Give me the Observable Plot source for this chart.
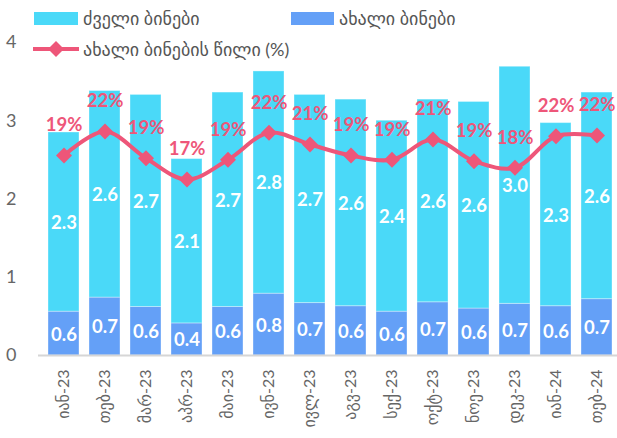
<!DOCTYPE html>
<html>
<head>
<meta charset="utf-8">
<script src="https://cdn.jsdelivr.net/npm/d3@7"></script>
<script src="https://cdn.jsdelivr.net/npm/@observablehq/plot@0.6"></script>
<style>
  html, body { margin: 0; padding: 0; background: #fff; overflow: hidden; }
  #wrap { position: relative; width: 617px; height: 438px; font-family: Lato, "DejaVu Sans", sans-serif; }
  .leg { position: absolute; font-size: 18px; color: #555; line-height: 20px; white-space: nowrap; }
  .sw { position: absolute; }
</style>
</head>
<body>
<div id="wrap"></div>
<script>
const months = ["იან-23","თებ-23","მარ-23","აპრ-23","მაი-23","ივნ-23","ივლ-23","აგვ-23","სექ-23","ოქტ-23","ნოე-23","დეკ-23","იან-24","თებ-24"];
const newFlats = [0.56, 0.74, 0.62, 0.41, 0.62, 0.79, 0.67, 0.63, 0.56, 0.68, 0.60, 0.66, 0.63, 0.72];
const oldFlats = [2.29, 2.64, 2.71, 2.10, 2.74, 2.84, 2.66, 2.64, 2.44, 2.59, 2.64, 3.03, 2.34, 2.64];
const newShare = [19.43, 22.23, 19.12, 16.63, 18.93, 22.08, 20.71, 19.43, 18.93, 21.30, 18.77, 18.0, 21.68, 21.76];
const yTicks = [0, 1, 2, 3, 4];
const legendLabels = ["ძველი ბინები", "ახალი ბინები", "ახალი ბინების წილი (%)"];

const cOld = "#4AD9F8", cNew = "#64A0F7", cLine = "#EE5679";

// hidden secondary axis for the share (%) line
const shareAxis = d3.scaleLinear().domain([0, 30]).range([0.4253, 3.7148]);

const segs = [];
months.forEach((m, i) => {
  segs.push({m, s: "new", y1: 0, y2: newFlats[i], v: newFlats[i]});
  segs.push({m, s: "old", y1: newFlats[i], y2: newFlats[i] + oldFlats[i], v: oldFlats[i]});
});
const line = months.map((m, i) => ({m, p: newShare[i], y: shareAxis(newShare[i])}));

const chart = Plot.plot({
  width: 617,
  height: 438,
  marginTop: 42,
  marginBottom: 83,
  marginLeft: 38,
  marginRight: 0,
  style: {fontFamily: "Lato, 'DejaVu Sans', sans-serif", background: "transparent", overflow: "visible"},
  x: {domain: months, range: [33.2, 627.8], padding: 0.234, label: null},
  y: {domain: [0, 4], label: null},
  marks: [
    Plot.barY(segs, {x: "m", y1: "y1", y2: "y2", fill: d => d.s === "new" ? cNew : cOld, stroke: "#fff", strokeOpacity: 0.35, strokeWidth: 1}),
    Plot.ruleY([0], {stroke: "#d6d6d6", strokeWidth: 2}),
    Plot.text(segs, {x: "m", y: d => (d.y1 + d.y2) / 2, text: d => d.v.toFixed(1), fill: "#fff", fontSize: 18.5, fontWeight: "bold", dy: 1}),
    Plot.line(line, {x: "m", y: "y", stroke: cLine, strokeWidth: 4, curve: "catmull-rom"}),
    Plot.dot(line, {x: "m", y: "y", symbol: "diamond2", r: 7.2, fill: cLine, stroke: null}),
    Plot.text(line, {x: "m", y: "y", text: d => Math.round(d.p) + "%", fill: cLine, fontSize: 18.5, fontWeight: "bold", dy: -30}),
    Plot.axisY({ticks: yTicks, tickFormat: d => String(d), tickSize: 0, tickPadding: 22, fontSize: 18, color: "#666", label: null}),
    Plot.axisX({tickSize: 0, tickPadding: 14, tickRotate: -90, fontSize: 16, color: "#666", label: null})
  ]
});
const wrap = document.getElementById("wrap");
wrap.appendChild(chart);

// legend
function addSwatch(left, top, w, h, color) {
  const d = document.createElement("div");
  d.className = "sw";
  Object.assign(d.style, {left: left + "px", top: top + "px", width: w + "px", height: h + "px", background: color});
  wrap.appendChild(d);
}
function addText(left, cy, txt) {
  const d = document.createElement("div");
  d.className = "leg";
  d.textContent = txt;
  Object.assign(d.style, {left: left + "px", top: (cy - 10) + "px"});
  wrap.appendChild(d);
}
addSwatch(34, 12, 44, 13, cOld);
addText(83, 18, legendLabels[0]);
addSwatch(291, 12, 43, 13, cNew);
addText(339, 18, legendLabels[1]);
const ns = "http://www.w3.org/2000/svg";
const ls = document.createElementNS(ns, "svg");
ls.setAttribute("width", 48); ls.setAttribute("height", 20);
Object.assign(ls.style, {position: "absolute", left: "32px", top: "39px"});
ls.innerHTML = `<line x1="1" y1="10" x2="47" y2="10" stroke="${cLine}" stroke-width="4"/><path d="M24 2 L32 10 L24 18 L16 10 Z" fill="${cLine}"/>`;
wrap.appendChild(ls);
addText(83, 49, legendLabels[2]);
</script>
</body>
</html>
